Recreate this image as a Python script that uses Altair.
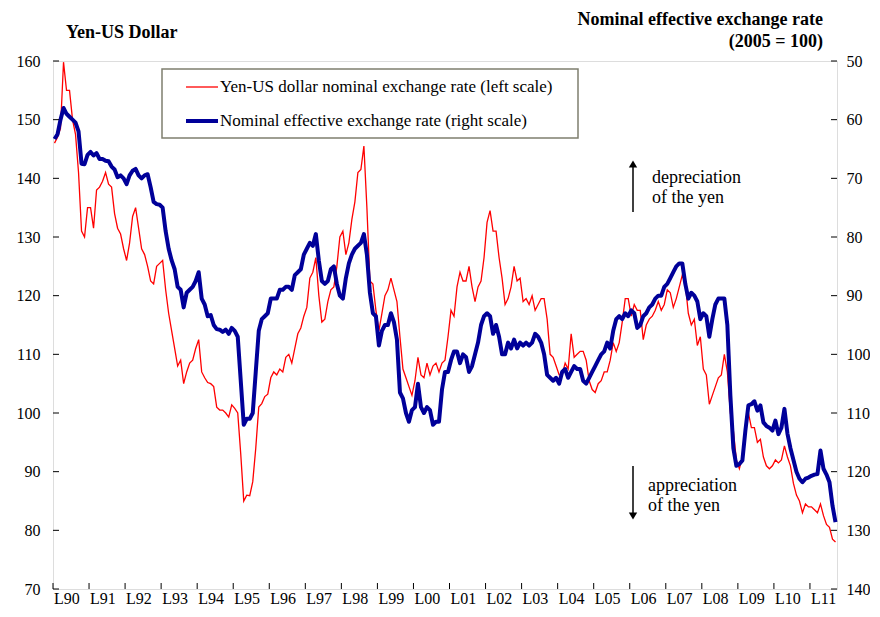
import altair as alt
import pandas as pd

# ---------------- data (monthly, Jan 1990 - Sep 2011) ----------------
START_YEAR = 1990

yen_usd = [
    # 1990
    146, 147, 148.5, 159.8, 155, 155, 150, 147.5, 141, 131, 130, 135,
    # 1991
    135, 131.5, 138, 138.5, 139.5, 141, 139, 138.5, 134, 131.5, 130.5, 128,
    # 1992
    126, 129, 133.5, 135, 131.5, 128, 127, 125, 122.5, 122, 125, 125.5,
    # 1993
    126, 121, 117, 114, 111, 108, 109, 105, 107, 108.5, 109, 111,
    # 1994
    112.5, 107, 106, 105.2, 105, 104.5, 101, 100.5, 100.5, 100, 99.3, 101.4,
    # 1995
    100.8, 100, 93, 85, 86, 85.9, 88.3, 94, 101, 101.6, 102.8, 103.2,
    # 1996
    106, 107, 106.5, 107.5, 107, 109.5, 110, 108.5, 111, 113.5, 114.5, 116.5,
    # 1997
    118, 123, 124, 126.5, 120, 115.5, 116, 119, 121, 121.5, 125, 130,
    # 1998
    131, 127, 129, 133, 136, 141, 141.5, 145.5, 135, 122.5, 122, 117.5,
    # 1999
    114, 117, 120, 121, 123, 121, 119, 113, 107.5, 106, 104.5, 103,
    # 2000
    105.5, 109.5, 106.5, 106, 108.5, 106.5, 108, 108.5, 107, 108.5, 109, 113,
    # 2001
    117.5, 116.5, 121.5, 124, 122.5, 122.5, 125, 121.5, 119, 121.5, 122.5, 126.5,
    # 2002
    132.5, 134.5, 131, 131, 126.5, 123, 118.5, 119.5, 121.5, 125, 122.5, 123,
    # 2003
    119, 119.5, 118.5, 120, 117.5, 118.5, 119.5, 119.5, 116, 110, 109.5, 108,
    # 2004
    106.5, 106.5, 108.5, 107.5, 113.5, 109.5, 110, 110.5, 110.5, 109, 105.5, 104,
    # 2005
    103.5, 105, 105.5, 107, 107, 109, 112, 110.5, 112, 115.5, 119.5, 119.5,
    # 2006
    116.5, 118.5, 117.5, 117.5, 112.5, 115, 116, 116.5, 117.5, 119, 117.5, 118.5,
    # 2007
    121, 120.5, 118, 119.5, 121.5, 123.5, 122, 117, 115, 116, 111.5, 113,
    # 2008
    107.5, 106.5, 101.5, 103, 104.5, 106, 106.5, 110, 107, 100, 97, 92,
    # 2009
    90.5, 92.5, 97.5, 100, 97.5, 97.5, 95, 95.5, 92.5, 91, 90.5, 91,
    # 2010
    92, 91.5, 92, 94.4, 92.5, 91, 88, 86, 85, 83, 84.5, 84,
    # 2011
    84, 83.5, 83, 84.5, 82.5, 81, 80.5, 78.5, 78,
]

neer = [
    # 1990
    63.3, 62.5, 60.0, 58.0, 59.0, 59.5, 60.0, 60.5, 62.0, 67.5, 67.6, 66.0,
    # 1991
    65.5, 66.1, 65.7, 66.7, 66.7, 67.0, 67.1, 68.0, 68.5, 69.8, 69.5, 70.0,
    # 1992
    71.0, 69.5, 68.7, 68.4, 69.5, 70.0, 69.5, 69.3, 71.5, 74.0, 74.4, 74.5,
    # 1993
    75.0, 79.0, 82.0, 84.0, 85.5, 88.5, 89.0, 92.0, 89.5, 89.0, 88.5, 87.5,
    # 1994
    86.0, 90.5, 91.5, 93.5, 93.3, 95.0, 95.7, 95.8, 96.2, 95.8, 96.5, 95.5,
    # 1995
    96.0, 97.0, 104.5, 112.0, 111.0, 111.0, 110.0, 103.0, 96.0, 94.0, 93.5, 93.0,
    # 1996
    90.5, 90.5, 90.5, 89.0, 89.0, 88.5, 88.5, 89.0, 86.5, 86.0, 85.5, 83.0,
    # 1997
    82.0, 81.0, 81.5, 79.5, 84.0, 87.5, 88.0, 87.5, 85.5, 85.0, 88.0, 90.0,
    # 1998
    90.5, 87.0, 84.5, 83.0, 82.0, 81.5, 81.0, 79.5, 83.0, 89.5, 93.0, 93.5,
    # 1999
    98.5, 96.0, 95.0, 95.0, 93.0, 94.5, 97.5, 106.5, 107.5, 110.0, 111.5, 109.5,
    # 2000
    109.0, 105.0, 109.0, 110.0, 109.0, 109.5, 112.0, 111.5, 111.5, 106.0, 103.0, 103.0,
    # 2001
    101.0, 99.5, 99.5, 101.5, 100.0, 100.5, 103.0, 102.0, 100.0, 98.0, 95.0, 93.5,
    # 2002
    93.0, 93.5, 96.5, 95.0, 97.0, 100.0, 100.0, 98.0, 99.0, 97.5, 99.0, 98.0,
    # 2003
    98.5, 98.0, 98.5, 98.0, 96.5, 97.0, 98.0, 100.0, 103.5, 104.0, 104.5, 104.0,
    # 2004
    105.0, 103.0, 102.5, 104.0, 103.0, 102.0, 102.5, 102.5, 104.5, 105.0, 104.0, 103.0,
    # 2005
    102.0, 101.0, 100.0, 99.5, 98.0, 99.0, 96.0, 94.0, 93.5, 94.0, 93.0, 93.5,
    # 2006
    92.5, 93.0, 95.5, 95.0, 93.5, 93.0, 92.0, 91.5, 90.5, 90.0, 90.0, 88.5,
    # 2007
    88.0, 87.0, 86.0, 85.0, 84.5, 84.5, 88.0, 90.5, 89.5, 90.0, 91.0, 94.0,
    # 2008
    93.0, 93.5, 97.0, 94.0, 91.5, 90.5, 90.5, 90.5, 95.0, 107.0, 116.0, 119.0,
    # 2009
    118.7, 118.1, 113.0, 108.7, 108.5, 108.0, 109.6, 108.7, 111.6, 112.2, 112.5, 113.0,
    # 2010
    111.3, 113.6, 112.5, 109.3, 113.5, 116.0, 118.0, 120.0, 121.2, 121.8, 121.2, 121.0,
    # 2011
    120.7, 120.5, 120.4, 116.4, 119.5, 120.5, 121.8, 125.8, 128.6,
]

year_labels = ["L90", "L91", "L92", "L93", "L94", "L95", "L96", "L97", "L98", "L99",
               "L00", "L01", "L02", "L03", "L04", "L05", "L06", "L07", "L08", "L09",
               "L10", "L11"]
left_ticks = [70, 80, 90, 100, 110, 120, 130, 140, 150, 160]
right_ticks = [50, 60, 70, 80, 90, 100, 110, 120, 130, 140]

left_title = "Yen-US Dollar"
right_title = ["Nominal effective exchange rate", "(2005 = 100)"]
legend_labels = ["Yen-US dollar nominal exchange rate (left scale)",
                 "Nominal effective exchange rate (right scale)"]
up_note = ["depreciation", "of the yen"]
down_note = ["appreciation", "of the yen"]

# ---------------- chart ----------------
W, H = 784, 528
FONT = "Liberation Serif"
RED = "#ff0000"
BLUE = "#000099"

n = len(yen_usd)
df = pd.DataFrame({"m": [i + 0.5 for i in range(n)], "yen": yen_usd, "neer": neer})

xs = alt.Scale(domain=[0, n], nice=False, zero=False)
ls = alt.Scale(domain=[70, 160], nice=False, zero=False)
rs = alt.Scale(domain=[50, 140], nice=False, zero=False, reverse=True)

axis_common = dict(title=None, grid=False, ticks=False, domain=False,
                   labelFont=FONT, labelFontSize=16, labelColor="black")

red = alt.Chart(df).mark_line(color=RED, strokeWidth=1.3).encode(
    x=alt.X("m:Q", scale=xs, axis=None),
    y=alt.Y("yen:Q", scale=ls,
            axis=alt.Axis(orient="left", values=left_ticks, labelPadding=13, **axis_common)),
)
blue = alt.Chart(df).mark_line(color=BLUE, strokeWidth=4, strokeJoin="round").encode(
    x=alt.X("m:Q", scale=xs, axis=None),
    y=alt.Y("neer:Q", scale=rs,
            axis=alt.Axis(orient="right", values=right_ticks, labelPadding=9, **axis_common)),
)

# inward tick marks
lt = alt.Chart(pd.DataFrame({"v": left_ticks})).mark_rule(color="black", strokeWidth=1).encode(
    y=alt.Y("v:Q", scale=ls, axis=None), x=alt.value(0), x2=alt.value(6))
rt = alt.Chart(pd.DataFrame({"v": right_ticks})).mark_rule(color="black", strokeWidth=1).encode(
    y=alt.Y("v:Q", scale=rs, axis=None), x=alt.value(W - 6), x2=alt.value(W))
year_starts = [12 * k for k in range(len(year_labels))]
xt = alt.Chart(pd.DataFrame({"m": year_starts})).mark_rule(color="black", strokeWidth=1).encode(
    x=alt.X("m:Q", scale=xs, axis=None), y=alt.value(H - 6), y2=alt.value(H))
xl = alt.Chart(pd.DataFrame({"m": year_starts, "lab": year_labels})).mark_text(
    font=FONT, fontSize=16, align="left", baseline="middle", color="black", dx=1).encode(
    x=alt.X("m:Q", scale=xs, axis=None), y=alt.value(H + 10), text="lab:N")

one = pd.DataFrame({"k": [0]})

# legend box
box = alt.Chart(one).mark_rect(fill="white", stroke="#7f7f6f", strokeWidth=1.5).encode(
    x=alt.value(109), x2=alt.value(525), y=alt.value(8), y2=alt.value(77))
leg_red = alt.Chart(one).mark_rule(color=RED, strokeWidth=1.3).encode(
    x=alt.value(133), x2=alt.value(165), y=alt.value(26))
leg_blue = alt.Chart(one).mark_rule(color=BLUE, strokeWidth=4).encode(
    x=alt.value(133), x2=alt.value(165), y=alt.value(60))
leg_txt = alt.Chart(pd.DataFrame({"t": legend_labels, "yy": [26, 60]})).mark_text(
    font=FONT, fontSize=17, align="left", baseline="middle", color="black").encode(
    x=alt.value(167), y=alt.Y("yy:Q", scale=None), text="t:N")

# titles
t_left = alt.Chart(one).mark_text(font=FONT, fontSize=18, fontWeight="bold", align="left",
                                  baseline="middle", color="black", text=left_title).encode(
    x=alt.value(13), y=alt.value(-28))
t_right = alt.Chart(pd.DataFrame({"t": right_title, "yy": [-41, -19]})).mark_text(
    font=FONT, fontSize=18, fontWeight="bold", align="right", baseline="middle", color="black").encode(
    x=alt.value(770), y=alt.Y("yy:Q", scale=None), text="t:N")

# arrows and notes
up_rule = alt.Chart(one).mark_rule(color="black", strokeWidth=1.5).encode(
    x=alt.value(580), y=alt.value(151), y2=alt.value(105))
up_head = alt.Chart(one).mark_point(shape="triangle-up", filled=True, color="black",
                                    size=70, opacity=1).encode(x=alt.value(580), y=alt.value(103))
up_txt = alt.Chart(pd.DataFrame({"t": up_note, "yy": [117, 137]})).mark_text(
    font=FONT, fontSize=18, align="left", baseline="middle", color="black").encode(
    x=alt.value(599), y=alt.Y("yy:Q", scale=None), text="t:N")
dn_rule = alt.Chart(one).mark_rule(color="black", strokeWidth=1.5).encode(
    x=alt.value(580), y=alt.value(405), y2=alt.value(453))
dn_head = alt.Chart(one).mark_point(shape="triangle-down", filled=True, color="black",
                                    size=70, opacity=1).encode(x=alt.value(580), y=alt.value(455))
dn_txt = alt.Chart(pd.DataFrame({"t": down_note, "yy": [425, 445]})).mark_text(
    font=FONT, fontSize=18, align="left", baseline="middle", color="black").encode(
    x=alt.value(595), y=alt.Y("yy:Q", scale=None), text="t:N")

chart = alt.layer(
    red, blue, lt, rt, xt, xl, box, leg_red, leg_blue, leg_txt,
    t_left, t_right, up_rule, up_head, up_txt, dn_rule, dn_head, dn_txt,
).resolve_scale(y="independent").properties(
    width=W, height=H,
    padding={"left": 45, "top": 53, "right": 33, "bottom": 20},
    autosize=alt.AutoSizeParams(type="none"),
).configure_view(stroke="black", strokeWidth=2).configure(background="white")

chart.save("out.html", embed_options={"renderer": "svg", "actions": False})
